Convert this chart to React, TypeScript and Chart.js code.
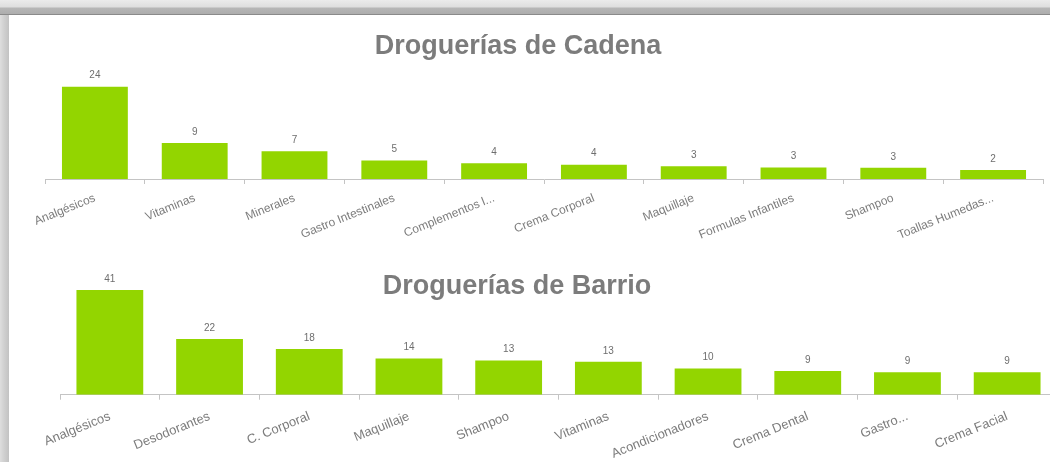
import React, { useEffect, useRef } from 'react';
import { Chart, registerables } from 'chart.js';

Chart.register(...registerables);

// ---- Data ----
const cadenaTitle = 'Droguerías de Cadena';
const cadenaCategories = [
  'Analgésicos',
  'Vitaminas',
  'Minerales',
  'Gastro Intestinales',
  'Complementos l...',
  'Crema Corporal',
  'Maquillaje',
  'Formulas Infantiles',
  'Shampoo',
  'Toallas Humedas...',
];
const cadenaValues = [23.9, 9.3, 7.2, 4.8, 4.1, 3.7, 3.3, 3.0, 2.9, 2.3];

const barrioTitle = 'Droguerías de Barrio';
const barrioCategories = [
  'Analgésicos',
  'Desodorantes',
  'C. Corporal',
  'Maquillaje',
  'Shampoo',
  'Vitaminas',
  'Acondicionadores',
  'Crema Dental',
  'Gastro...',
  'Crema Facial',
];
const barrioValues = [41, 21.8, 17.9, 14.2, 13.4, 12.9, 10.3, 9.3, 8.8, 8.8];

const BAR_COLOR = '#93d500';
const TEXT_GRAY = '#7c7c7c';
const FONT = "'Liberation Sans', Arial, sans-serif";

const valueLabelPlugin = {
  id: 'valueLabels',
  afterDatasetsDraw(chart: any) {
    const ctx = chart.ctx;
    const meta = chart.getDatasetMeta(0);
    const data = chart.data.datasets[0].data as number[];
    ctx.save();
    ctx.font = `10px ${FONT}`;
    ctx.fillStyle = '#6e6e6e';
    ctx.textAlign = 'center';
    ctx.textBaseline = 'middle';
    meta.data.forEach((el: any, i: number) => {
      ctx.fillText(String(Math.round(data[i])), el.x, el.y - 11);
    });
    ctx.restore();
  },
};

const fixedTitlePlugin = {
  id: 'fixedTitle',
  afterDraw(chart: any, _args: any, opts: any) {
    if (!opts || !opts.text) return;
    const ctx = chart.ctx;
    ctx.save();
    ctx.font = `bold ${opts.size}px ${FONT}`;
    ctx.fillStyle = TEXT_GRAY;
    ctx.textAlign = 'center';
    ctx.textBaseline = 'alphabetic';
    ctx.fillText(opts.text, opts.x, opts.y);
    ctx.restore();
  },
};

type BarChartProps = {
  title: string;
  labels: string[];
  values: number[];
  width: number;
  height: number;
  yMax: number;
  padding: { left: number; right: number; top: number; bottom: number };
  axisHeight: number;
  titleX: number;
  titleY: number;
  titleSize: number;
  tickFontSize: number;
  tickPadding: number;
  barPct: number;
};

function BarChart(p: BarChartProps) {
  const ref = useRef<HTMLCanvasElement | null>(null);
  useEffect(() => {
    if (!ref.current) return;
    const chart = new Chart(ref.current, {
      type: 'bar',
      data: {
        labels: p.labels,
        datasets: [
          {
            data: p.values,
            backgroundColor: BAR_COLOR,
            borderWidth: 0,
            categoryPercentage: 1,
            barPercentage: p.barPct,
          },
        ],
      },
      options: {
        responsive: false,
        animation: false,
        layout: { padding: p.padding },
        plugins: {
          legend: { display: false },
          tooltip: { enabled: false },
          title: { display: false },
          fixedTitle: { text: p.title, x: p.titleX, y: p.titleY, size: p.titleSize },
        } as any,
        scales: {
          y: { display: false, min: 0, max: p.yMax },
          x: {
            offset: true,
            border: { display: true, color: '#c4c4c4', width: 1 },
            grid: {
              display: true,
              offset: true,
              drawOnChartArea: false,
              drawTicks: true,
              tickLength: 5,
              color: '#c4c4c4',
            },
            ticks: {
              autoSkip: false,
              minRotation: 22,
              maxRotation: 22,
              padding: p.tickPadding,
              color: TEXT_GRAY,
              font: { family: FONT, size: p.tickFontSize },
            },
            afterFit: (scale: any) => {
              scale.height = p.axisHeight;
              scale.paddingLeft = 0;
              scale.paddingRight = 0;
            },
          },
        },
      },
      plugins: [valueLabelPlugin, fixedTitlePlugin],
    });
    return () => chart.destroy();
  }, []);
  return <canvas ref={ref} width={p.width} height={p.height} style={{ display: 'block' }} />;
}

export default function App() {
  return (
    <div
      style={{
        position: 'absolute',
        left: 0,
        top: 0,
        width: 1050,
        height: 462,
        overflow: 'hidden',
        background: '#ffffff',
      }}
    >
      {/* frame: left band */}
      <div
        style={{
          position: 'absolute',
          left: 0,
          top: 0,
          width: 9,
          height: 462,
          background: 'linear-gradient(to right, #dedede 0px, #d0d0d0 4px, #c2c2c2 9px)',
        }}
      />
      {/* frame: top band */}
      <div
        style={{
          position: 'absolute',
          left: 0,
          top: 0,
          width: 1050,
          height: 14,
          background:
            'linear-gradient(to bottom, #ebebeb 0px, #dedede 7px, #b6b6b6 8px, #adadad 14px)',
          borderBottom: '1px solid #8a8a8a',
        }}
      />
      <div style={{ position: 'absolute', left: 0, top: 15 }}>
        <BarChart
          title={cadenaTitle}
          labels={cadenaCategories}
          values={cadenaValues}
          width={1050}
          height={225}
          yMax={28}
          padding={{ left: 45, right: 7, top: 55.9, bottom: 0 }}
          axisHeight={61}
          titleX={518}
          titleY={39}
          titleSize={27}
          tickFontSize={12}
          tickPadding={7}
          barPct={0.66}
        />
      </div>
      <div style={{ position: 'absolute', left: 0, top: 240 }}>
        <BarChart
          title={barrioTitle}
          labels={barrioCategories}
          values={barrioValues}
          width={1070}
          height={222}
          yMax={48}
          padding={{ left: 60, right: 13, top: 32.1, bottom: 0 }}
          axisHeight={67.3}
          titleX={517}
          titleY={54}
          titleSize={27}
          tickFontSize={13}
          tickPadding={9}
          barPct={0.67}
        />
      </div>
    </div>
  );
}
